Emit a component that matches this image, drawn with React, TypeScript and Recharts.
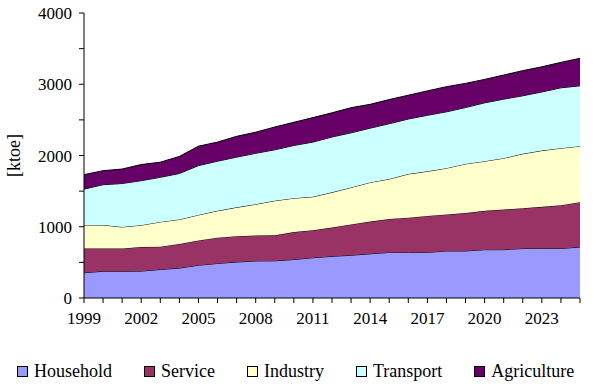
import { AreaChart, Area, XAxis, YAxis, Legend } from 'recharts';

const years = [
  1999, 2000, 2001, 2002, 2003, 2004, 2005, 2006, 2007, 2008, 2009, 2010, 2011, 2012,
  2013, 2014, 2015, 2016, 2017, 2018, 2019, 2020, 2021, 2022, 2023, 2024, 2025,
];
const household = [
  355, 375, 375, 378, 400, 420, 460, 485, 505, 520, 522, 540, 565, 585,
  600, 620, 640, 640, 640, 660, 660, 678, 678, 695, 695, 695, 715,
];
const service = [
  340, 320, 320, 338, 320, 338, 348, 362, 362, 358, 358, 386, 386, 404,
  433, 452, 470, 488, 512, 513, 532, 546, 564, 566, 584, 608, 630,
];
const industry = [
  330, 330, 302, 306, 348, 344, 358, 377, 405, 438, 485, 475, 470, 494,
  518, 550, 560, 612, 626, 649, 690, 696, 720, 763, 790, 800, 786,
];
const transport = [
  503, 565, 610, 625, 626, 645, 692, 696, 705, 715, 715, 740, 767, 777,
  767, 762, 776, 772, 786, 791, 791, 819, 829, 814, 823, 847, 847,
];
const agriculture = [
  203, 197, 203, 226, 212, 240, 273, 268, 292, 296, 320, 325, 344, 339,
  353, 334, 339, 334, 343, 353, 339, 329, 338, 353, 353, 357, 386,
];
const yTicks = [0, 500, 1000, 1500, 2000, 2500, 3000, 3500, 4000];

const series = [
  { key: 'household', name: 'Household', color: '#9999ff', values: household },
  { key: 'service', name: 'Service', color: '#993366', values: service },
  { key: 'industry', name: 'Industry', color: '#ffffcc', values: industry },
  { key: 'transport', name: 'Transport', color: '#ccffff', values: transport },
  { key: 'agriculture', name: 'Agriculture', color: '#660066', values: agriculture },
];

const data = years.map((year, i) => {
  const row: Record<string, number> = { year };
  series.forEach((s) => (row[s.key] = s.values[i]));
  return row;
});

const font = "'Liberation Serif', 'DejaVu Serif', 'Noto Serif', serif";

function XTick(props: any) {
  const { x, y, payload, index } = props;
  if (index % 3 !== 0) return null;
  return (
    <text x={x} y={y} dy="0.71em" textAnchor="middle" fontFamily={font} fontSize={17} fill="#000">
      {payload.value}
    </text>
  );
}

function YTick(props: any) {
  const { x, y, payload } = props;
  if (payload.value % 1000 !== 0) return null;
  return (
    <text x={x} y={y} dy="0.355em" textAnchor="end" fontFamily={font} fontSize={17} fill="#000">
      {payload.value}
    </text>
  );
}

function LegendBox() {
  return (
    <div style={{ display: 'flex', alignItems: 'center', paddingLeft: 17, fontFamily: font, fontSize: 18 }}>
      {series.map((s) => (
        <div key={s.key} style={{ display: 'flex', alignItems: 'center', marginRight: 32 }}>
          <span
            style={{
              width: 9,
              height: 9,
              background: s.color,
              border: '1px solid #000',
              marginRight: 6,
              display: 'inline-block',
            }}
          />
          <span>{s.name}</span>
        </div>
      ))}
    </div>
  );
}

export default function App() {
  return (
    <div style={{ position: 'absolute', left: 0, top: 0, background: '#fff' }}>
      <AreaChart width={599} height={388} data={data} margin={{ top: 13, right: 19, left: 0, bottom: 0 }}>
        <XAxis
          dataKey="year"
          interval={0}
          tick={<XTick />}
          tickSize={5}
          tickMargin={9}
          height={69}
          stroke="#000"
        />
        <YAxis
          domain={[0, 4000]}
          ticks={yTicks}
          tick={<YTick />}
          tickSize={5}
          tickMargin={7}
          width={84}
          stroke="#000"
          label={{
            value: '[ktoe]',
            angle: -90,
            position: 'insideLeft',
            offset: 14,
            style: { fontFamily: font, fontSize: 18, fill: '#000', textAnchor: 'middle' },
          }}
        />
        <Legend
          content={<LegendBox />}
          wrapperStyle={{ position: 'absolute', top: 361, left: 0, width: 599 }}
        />
        {series.map((s) => (
          <Area
            key={s.key}
            type="linear"
            dataKey={s.key}
            name={s.name}
            stackId="1"
            fill={s.color}
            fillOpacity={1}
            stroke="#000"
            strokeWidth={1}
            isAnimationActive={false}
          />
        ))}
      </AreaChart>
    </div>
  );
}
